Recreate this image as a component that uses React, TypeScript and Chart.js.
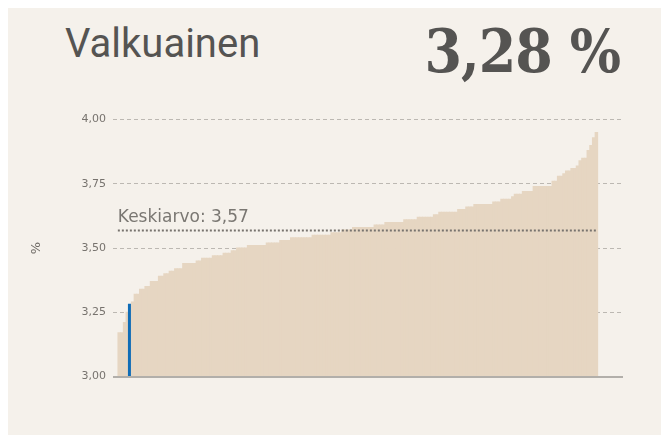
import React, { useEffect, useRef } from "react";
import { Chart, registerables } from "chart.js";

Chart.register(...registerables);

// Protein content per farm, sorted ascending
const farmValues: number[] = [
  3.17, 3.17, 3.21, 3.25, 3.28, 3.29, 3.32, 3.32, 3.34, 3.34,
  3.35, 3.35, 3.37, 3.37, 3.37, 3.39, 3.39, 3.40, 3.40, 3.41,
  3.41, 3.42, 3.42, 3.42, 3.44, 3.44, 3.44, 3.44, 3.44, 3.45,
  3.45, 3.46, 3.46, 3.46, 3.46, 3.47, 3.47, 3.47, 3.47, 3.48,
  3.48, 3.48, 3.49, 3.49, 3.50, 3.50, 3.50, 3.50, 3.51, 3.51,
  3.51, 3.51, 3.51, 3.51, 3.51, 3.52, 3.52, 3.52, 3.52, 3.52,
  3.53, 3.53, 3.53, 3.53, 3.54, 3.54, 3.54, 3.54, 3.54, 3.54,
  3.54, 3.54, 3.55, 3.55, 3.55, 3.55, 3.55, 3.55, 3.55, 3.56,
  3.56, 3.56, 3.56, 3.57, 3.57, 3.57, 3.57, 3.58, 3.58, 3.58,
  3.58, 3.58, 3.58, 3.58, 3.58, 3.59, 3.59, 3.59, 3.59, 3.60,
  3.60, 3.60, 3.60, 3.60, 3.60, 3.60, 3.61, 3.61, 3.61, 3.61,
  3.61, 3.62, 3.62, 3.62, 3.62, 3.62, 3.62, 3.63, 3.63, 3.64,
  3.64, 3.64, 3.64, 3.64, 3.64, 3.64, 3.65, 3.65, 3.65, 3.66,
  3.66, 3.66, 3.67, 3.67, 3.67, 3.67, 3.67, 3.67, 3.67, 3.68,
  3.68, 3.68, 3.69, 3.69, 3.69, 3.69, 3.70, 3.71, 3.71, 3.71,
  3.72, 3.72, 3.72, 3.72, 3.74, 3.74, 3.74, 3.74, 3.74, 3.74,
  3.74, 3.76, 3.76, 3.78, 3.78, 3.79, 3.80, 3.80, 3.81, 3.81,
  3.82, 3.84, 3.85, 3.85, 3.88, 3.90, 3.93, 3.95,
];
const highlightIndex = 4; // own farm
const ownValue = 3.28;
const meanValue = 3.57;
const yMin = 3.0;
const yMax = 4.0;
const yStep = 0.25;
const xMin = -1.3;
const xMax = 187.5;

const titleText = "Valkuainen";
const meanLabel = "Keskiarvo";
const yTitle = "%";

const fmt = (v: number) => v.toFixed(2).replace(".", ",");

const BG = "#f5f1eb";
const BAR = "#e6d6c2";
const BLUE = "#0f6cb6";

export default function App() {
  const ref = useRef<HTMLCanvasElement | null>(null);

  useEffect(() => {
    if (!ref.current) return;
    const ranks = farmValues.map((_, i) => i + 1);

    const overlay = {
      id: "overlay",
      afterDatasetsDraw(chart: any) {
        const { ctx, scales, chartArea } = chart;
        const x = scales.x;
        const y = scales.y;
        ctx.save();
        // baseline
        const yb = Math.round(y.getPixelForValue(yMin)) + 1;
        ctx.strokeStyle = "#b2afaa";
        ctx.lineWidth = 2;
        ctx.beginPath();
        ctx.moveTo(chartArea.left, yb);
        ctx.lineTo(chartArea.right + 1, yb);
        ctx.stroke();
        // mean line
        const ym = Math.round(y.getPixelForValue(meanValue)) + 0.5;
        const x0 = x.getPixelForValue(0.5);
        const x1 = x.getPixelForValue(farmValues.length + 0.5);
        ctx.strokeStyle = "#77736e";
        ctx.lineWidth = 2;
        ctx.setLineDash([2, 2]);
        ctx.beginPath();
        ctx.moveTo(x0, ym);
        ctx.lineTo(x1, ym);
        ctx.stroke();
        ctx.setLineDash([]);
        ctx.fillStyle = "#7a7772";
        ctx.font = "17px 'DejaVu Sans'";
        ctx.textAlign = "left";
        ctx.textBaseline = "alphabetic";
        ctx.fillText(`${meanLabel}: ${fmt(meanValue)}`, x0, ym - 9);
        ctx.restore();
      },
    };

    const chart = new Chart(ref.current, {
      type: "bar",
      data: {
        datasets: [
          {
            data: farmValues.map((v, i) => ({ x: ranks[i], y: v })),
            backgroundColor: farmValues.map((_, i) => (i === highlightIndex ? BLUE : BAR)),
            borderWidth: 0,
            barPercentage: 1,
            categoryPercentage: 1,
            inflateAmount: (c: any) => (c.dataIndex === highlightIndex ? 0.7 : 0.4),
          } as any,
        ],
      },
      options: {
        animation: false,
        responsive: false,
        maintainAspectRatio: false,
        layout: { padding: { top: 10, right: 16, bottom: 13, left: 0 } },
        plugins: { legend: { display: false }, tooltip: { enabled: false } },
        scales: {
          x: {
            type: "linear",
            display: false,
            offset: false,
            min: xMin,
            max: xMax,
          },
          y: {
            min: yMin,
            max: yMax,
            afterFit: (s: any) => {
              s.width = 85;
            },
            ticks: {
              stepSize: yStep,
              padding: 7,
              color: "#77736e",
              font: { family: "'DejaVu Sans'", size: 11 },
              callback: (v: any) => fmt(Number(v)),
            },
            grid: { color: "#bcb8b2", drawTicks: false, lineWidth: 1 },
            border: { display: false, dash: [4, 3] },
            title: {
              display: true,
              text: yTitle,
              color: "#6f6b66",
              font: { family: "'DejaVu Sans'", size: 13 },
              padding: { top: 1, bottom: 0 },
            },
          },
        },
      },
      plugins: [overlay],
    });
    return () => chart.destroy();
  }, []);

  return (
    <div
      style={{
        position: "fixed",
        left: 8,
        top: 8,
        right: 0,
        bottom: 0,
        background: BG,
        fontFamily: "Roboto, sans-serif",
      }}
    >
      <div
        style={{
          position: "absolute",
          left: 57,
          top: 13,
          fontSize: 40,
          color: "#555452",
          lineHeight: "46px",
        }}
      >
        {titleText}
      </div>
      <div
        style={{
          position: "absolute",
          right: 41,
          top: 8,
          fontSize: 60,
          fontWeight: 700,
          fontFamily: "'DejaVu Serif Condensed', 'DejaVu Serif', serif",
          fontStretch: "condensed",
          letterSpacing: "-1px",
          color: "#555452",
          lineHeight: "70px",
        }}
      >
        {fmt(ownValue)} %
      </div>
      <canvas
        ref={ref}
        width={610}
        height={284}
        style={{ position: "absolute", left: 20, top: 98, width: 610, height: 284 }}
      />
    </div>
  );
}
